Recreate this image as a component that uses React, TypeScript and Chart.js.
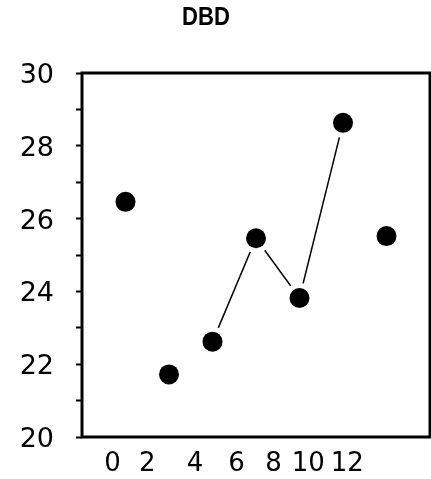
import React, { useEffect, useRef } from 'react';
import { Chart, registerables } from 'chart.js';

Chart.register(...registerables);

const chartTitle = 'DBD';
const xValues = [1, 2, 3, 4, 5, 6, 7];
const yValues = [26.46, 21.72, 22.62, 25.46, 23.82, 28.63, 25.52];
// indices of points joined by the line
const joinedIdx = [2, 3, 4, 5];
const xTickValues = [0.7, 1.5, 2.6, 3.55, 4.4, 5.2, 6.1];
const xTickLabels = ['0', '2', '4', '6', '8', '10', '12'];
const yMin = 20;
const yMax = 30;
const xMin = 0;
const xMax = 8;

const points = xValues.map((x, i) => ({ x, y: yValues[i] }));
const joined = joinedIdx.map((i) => ({ x: xValues[i], y: yValues[i] }));

const framePlugin = {
  id: 'frame',
  afterDatasetsDraw(chart: any) {
    const { ctx, chartArea } = chart;
    ctx.save();
    ctx.strokeStyle = '#000';
    ctx.lineWidth = 3;
    ctx.strokeRect(chartArea.left, chartArea.top, chartArea.right - chartArea.left, chartArea.bottom - chartArea.top);
    ctx.restore();
  },
};

const titlePlugin = {
  id: 'customTitle',
  afterDraw(chart: any) {
    const { ctx } = chart;
    ctx.save();
    ctx.fillStyle = '#000';
    ctx.font = 'bold 26px "Liberation Sans", Arial, sans-serif';
    ctx.textAlign = 'center';
    ctx.textBaseline = 'middle';
    ctx.translate(206, 18);
    ctx.scale(0.85, 1);
    ctx.fillText(chartTitle, 0, 0);
    ctx.restore();
  },
};

export default function App() {
  const ref = useRef<HTMLCanvasElement | null>(null);
  useEffect(() => {
    if (!ref.current) return;
    const chart = new Chart(ref.current, {
      type: 'scatter',
      data: {
        datasets: [
          {
            label: 'points',
            data: points,
            pointRadius: 10,
            pointHoverRadius: 10,
            pointBackgroundColor: '#000',
            pointBorderWidth: 0,
            showLine: false,
          },
          {
            label: 'halo',
            data: points,
            pointRadius: 15,
            pointHoverRadius: 15,
            pointBackgroundColor: '#fff',
            pointBorderWidth: 0,
            showLine: false,
          },
          {
            label: 'line',
            data: joined,
            showLine: true,
            borderColor: '#000',
            borderWidth: 1.5,
            pointRadius: 0,
            fill: false,
          },
        ],
      },
      options: {
        responsive: false,
        animation: false,
        events: [],
        layout: { autoPadding: false, padding: { top: 73, right: 1, left: 0, bottom: 0 } },
        plugins: {
          legend: { display: false },
          title: { display: false },
          tooltip: { enabled: false },
        },
        scales: {
          x: {
            type: 'linear',
            min: xMin,
            max: xMax,
            border: { display: false },
            grid: {
              display: true,
              drawOnChartArea: false,
              drawTicks: true,
              tickLength: 12,
              tickColor: 'rgba(0,0,0,0)',
            },
            afterBuildTicks: (scale: any) => {
              scale.ticks = xTickValues.map((v) => ({ value: v }));
            },
            afterFit: (scale: any) => {
              scale.height = 42;
              scale.paddingLeft = 0;
              scale.paddingRight = 0;
            },
            ticks: {
              autoSkip: false,
              maxRotation: 0,
              padding: 0,
              color: '#000',
              font: { family: '"DejaVu Sans", sans-serif', size: 26 },
              callback: (_v: any, i: number) => xTickLabels[i],
            },
          },
          y: {
            type: 'linear',
            min: yMin,
            max: yMax,
            border: { display: false },
            grid: {
              drawOnChartArea: false,
              drawTicks: true,
              tickLength: 6,
              tickWidth: 2,
              tickColor: '#000',
            },
            afterFit: (scale: any) => {
              scale.width = 82;
              scale.paddingTop = 0;
              scale.paddingBottom = 0;
            },
            ticks: {
              stepSize: 1,
              padding: 22,
              labelOffset: 3,
              color: '#000',
              font: { family: '"DejaVu Sans", sans-serif', size: 27 },
              callback: (v: any) => (Number(v) % 2 === 0 ? String(v) : ''),
            },
          },
        },
      },
      plugins: [framePlugin, titlePlugin],
    });
    return () => chart.destroy();
  }, []);
  return (
    <div style={{ position: 'fixed', left: 0, top: 0, width: 431, height: 479, background: '#fff' }}>
      <canvas ref={ref} width={431} height={479} />
    </div>
  );
}
